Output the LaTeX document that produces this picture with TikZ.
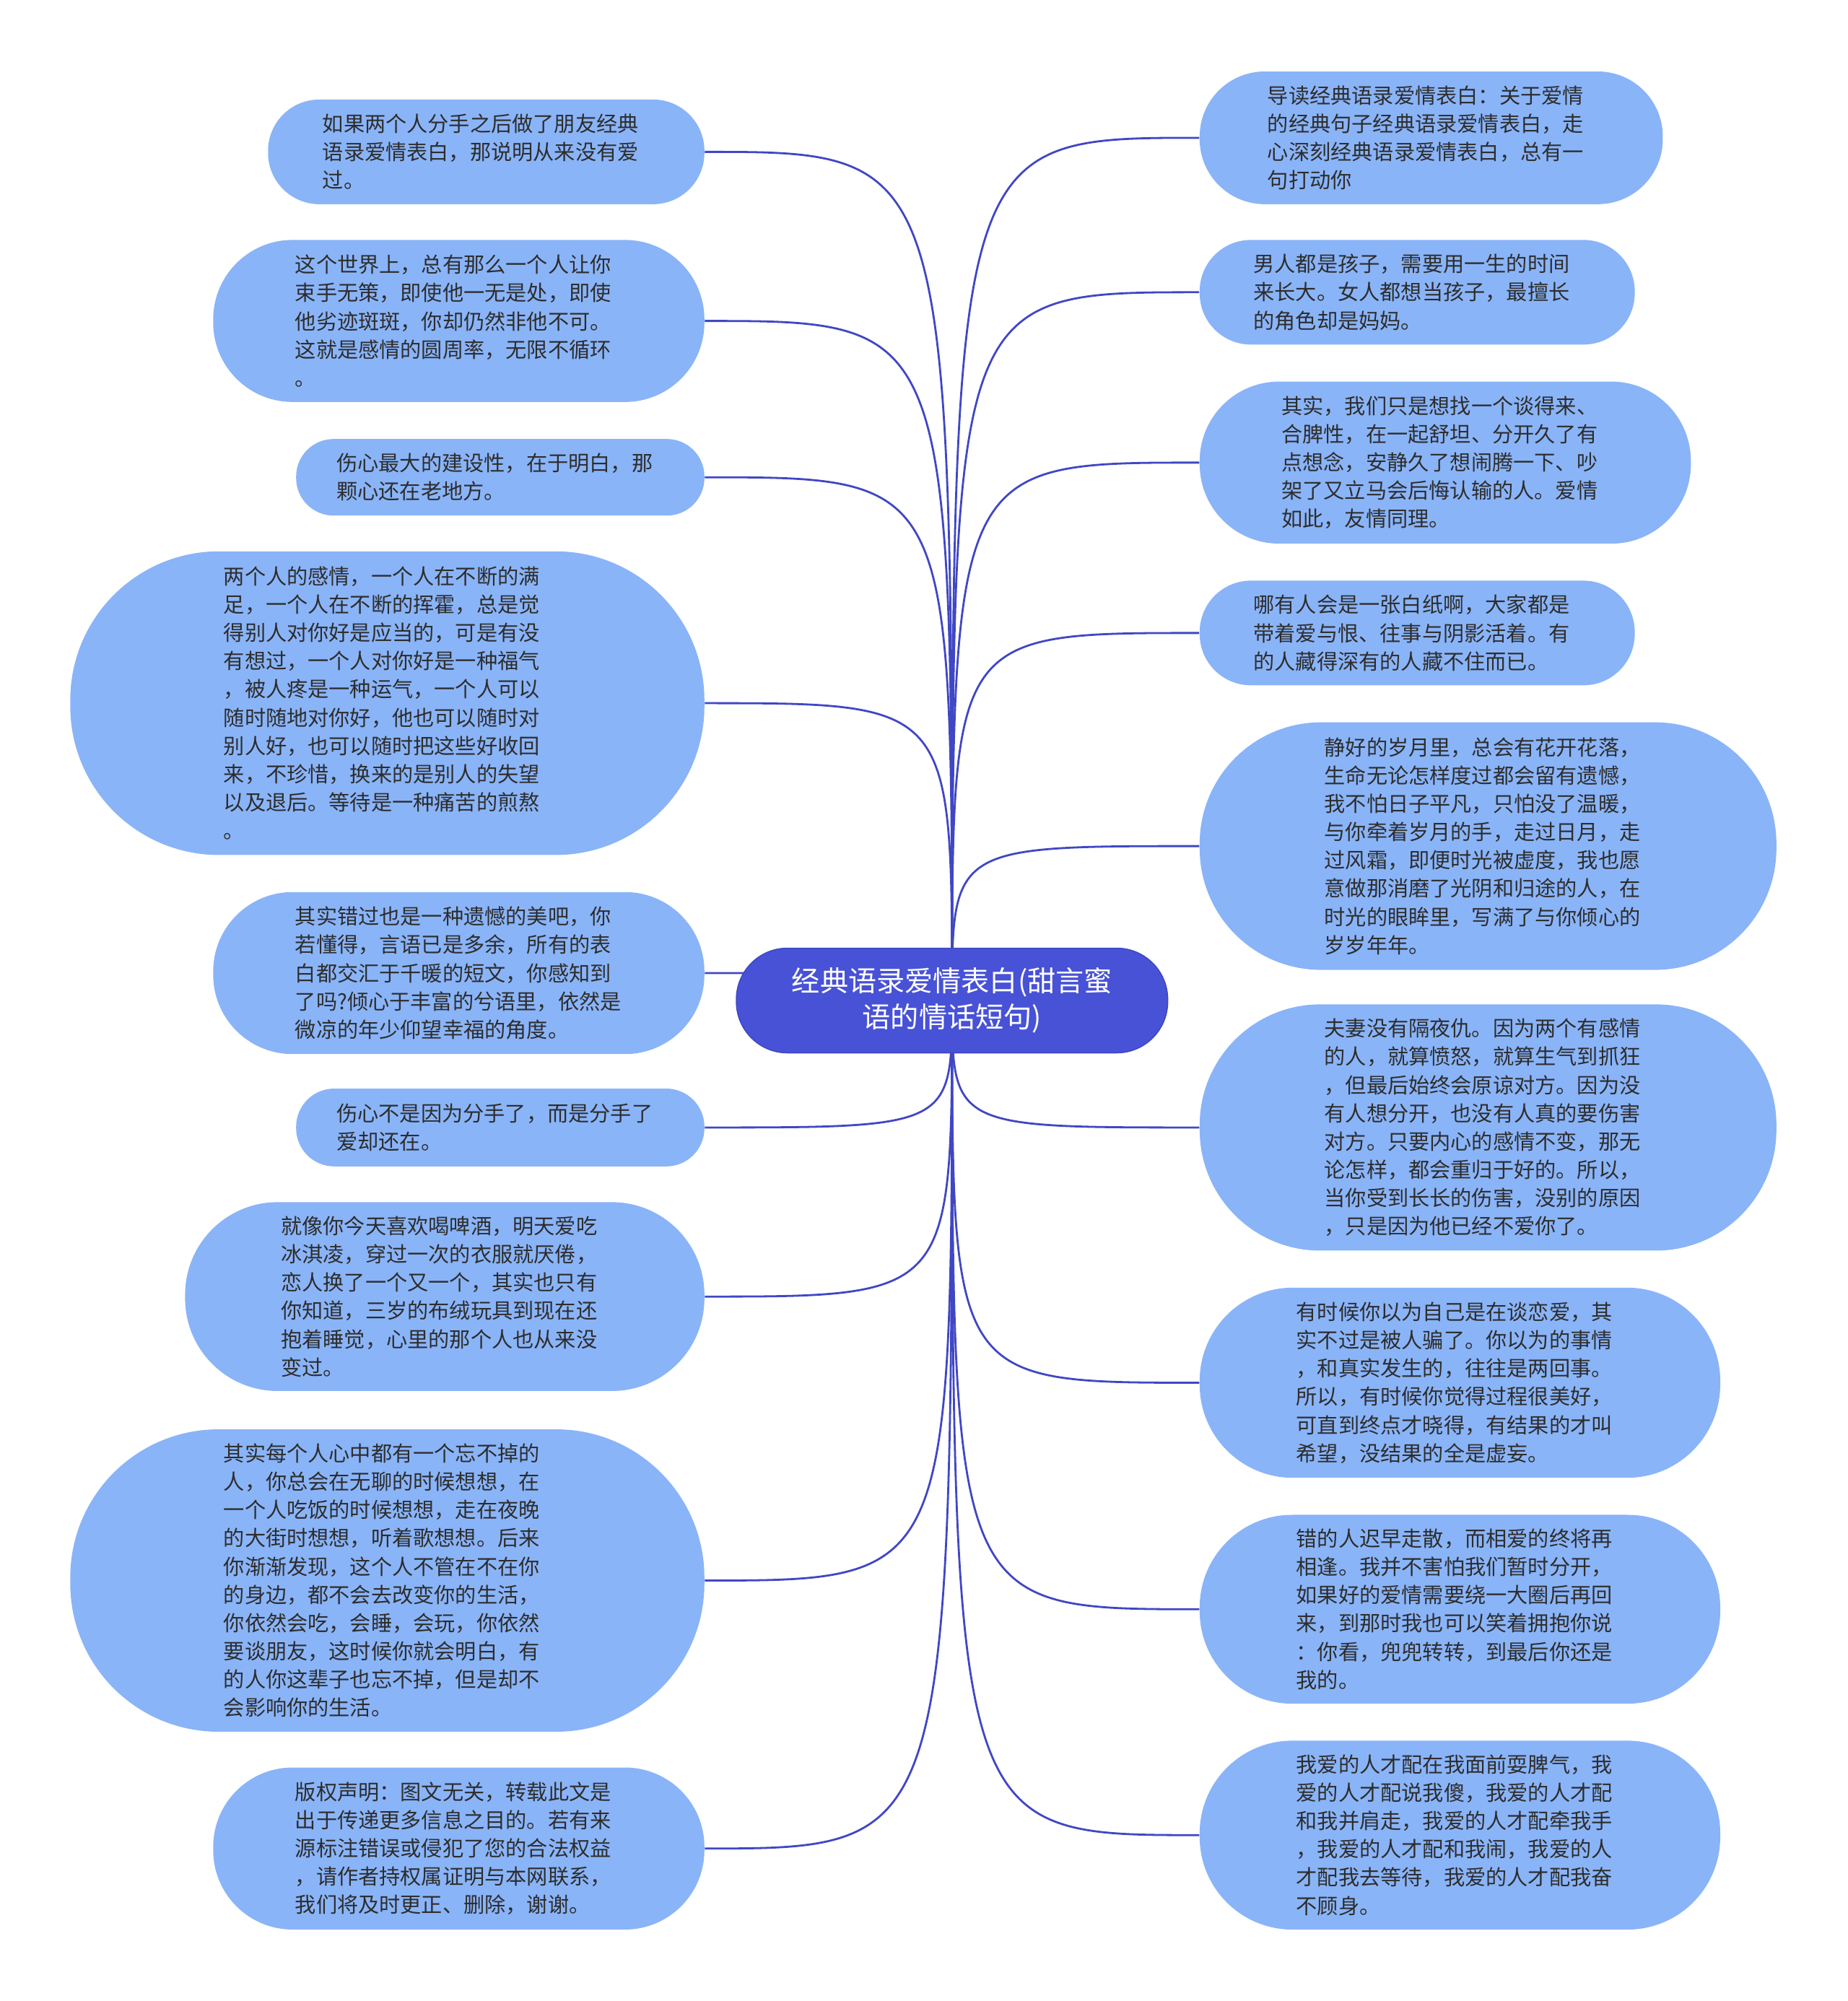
\documentclass[tikz,border=0pt]{standalone}
\usepackage{fontspec}
\usepackage{xcolor}
\usepackage{tikz}
\usetikzlibrary{backgrounds}
\newfontfamily\cjk{Noto Sans CJK SC}
\definecolor{leaffill}{RGB}{138,180,248}
\definecolor{topicfill}{RGB}{72,82,214}
\definecolor{linkblue}{RGB}{64,71,196}
\definecolor{textdark}{RGB}{45,45,45}
\tikzset{
  leaf/.style 2 args={rectangle, fill=leaffill, draw=none,
    minimum width=#1, minimum height=#2, rounded corners=#2*0.49,
    text width=146pt, align=left, inner sep=2pt,
    font=\cjk\fontsize{9.4pt}{12.6pt}\selectfont, text=textdark},
  topic/.style={rectangle, fill=topicfill, draw=linkblue, line width=0.5pt,
    minimum width=6.76cm, minimum height=1.64cm, rounded corners=0.8cm,
    align=center, inner sep=2pt,
    font=\cjk\fontsize{12.6pt}{16pt}\selectfont, text=white},
  link/.style={line width=0.9pt, color=linkblue}
}

\begin{document}
\begin{tikzpicture}[x=0.02cm, y=-0.02cm]
  \useasboundingbox (0,0) rectangle (1448,1568);

  % Centre
  \node[topic] (main) at (746,784) {经典语录爱情表白(甜言蜜\\语的情话短句)};

  % Left side
  \node[leaf={6.84cm}{1.64cm}] (l1) at (381,119)
    {如果两个人分手之后做了朋友经典\\语录爱情表白，那说明从来没有爱\\过。};
  \node[leaf={7.70cm}{2.54cm}] (l2) at (359.5,251.5)
    {这个世界上，总有那么一个人让你\\束手无策，即使他一无是处，即使\\他劣迹斑斑，你却仍然非他不可。\\这就是感情的圆周率，无限不循环\\。};
  \node[leaf={6.40cm}{1.20cm}] (l3) at (392,374)
    {伤心最大的建设性，在于明白，那\\颗心还在老地方。};
  \node[leaf={9.94cm}{4.76cm}] (l4) at (303.5,551)
    {两个人的感情，一个人在不断的满\\足，一个人在不断的挥霍，总是觉\\得别人对你好是应当的，可是有没\\有想过，一个人对你好是一种福气\\，被人疼是一种运气，一个人可以\\随时随地对你好，他也可以随时对\\别人好，也可以随时把这些好收回\\来，不珍惜，换来的是别人的失望\\以及退后。等待是一种痛苦的煎熬\\。};
  \node[leaf={7.70cm}{2.54cm}] (l5) at (359.5,762.5)
    {其实错过也是一种遗憾的美吧，你\\若懂得，言语已是多余，所有的表\\白都交汇于千暖的短文，你感知到\\了吗?倾心于丰富的兮语里，依然是\\微凉的年少仰望幸福的角度。};
  \node[leaf={6.40cm}{1.22cm}] (l6) at (392,883.5)
    {伤心不是因为分手了，而是分手了\\爱却还在。};
  \node[leaf={8.14cm}{2.96cm}] (l7) at (348.5,1016)
    {就像你今天喜欢喝啤酒，明天爱吃\\冰淇凌，穿过一次的衣服就厌倦，\\恋人换了一个又一个，其实也只有\\你知道，三岁的布绒玩具到现在还\\抱着睡觉，心里的那个人也从来没\\变过。};
  \node[leaf={9.94cm}{4.74cm}] (l8) at (303.5,1238.5)
    {其实每个人心中都有一个忘不掉的\\人，你总会在无聊的时候想想，在\\一个人吃饭的时候想想，走在夜晚\\的大街时想想，听着歌想想。后来\\你渐渐发现，这个人不管在不在你\\的身边，都不会去改变你的生活，\\你依然会吃，会睡，会玩，你依然\\要谈朋友，这时候你就会明白，有\\的人你这辈子也忘不掉，但是却不\\会影响你的生活。};
  \node[leaf={7.70cm}{2.54cm}] (l9) at (359.5,1448.5)
    {版权声明：图文无关，转载此文是\\出于传递更多信息之目的。若有来\\源标注错误或侵犯了您的合法权益\\，请作者持权属证明与本网联系，\\我们将及时更正、删除，谢谢。};

  % Right side
  \node[leaf={7.26cm}{2.08cm}] (r1) at (1121.5,108)
    {导读经典语录爱情表白：关于爱情\\的经典句子经典语录爱情表白，走\\心深刻经典语录爱情表白，总有一\\句打动你};
  \node[leaf={6.82cm}{1.64cm}] (r2) at (1110.5,229)
    {男人都是孩子，需要用一生的时间\\来长大。女人都想当孩子，最擅长\\的角色却是妈妈。};
  \node[leaf={7.70cm}{2.54cm}] (r3) at (1132.5,362.5)
    {其实，我们只是想找一个谈得来、\\合脾性，在一起舒坦、分开久了有\\点想念，安静久了想闹腾一下、吵\\架了又立马会后悔认输的人。爱情\\如此，友情同理。};
  \node[leaf={6.82cm}{1.64cm}] (r4) at (1110.5,496)
    {哪有人会是一张白纸啊，大家都是\\带着爱与恨、往事与阴影活着。有\\的人藏得深有的人藏不住而已。};
  \node[leaf={9.04cm}{3.88cm}] (r5) at (1166,663)
    {静好的岁月里，总会有花开花落，\\生命无论怎样度过都会留有遗憾，\\我不怕日子平凡，只怕没了温暖，\\与你牵着岁月的手，走过日月，走\\过风霜，即便时光被虚度，我也愿\\意做那消磨了光阴和归途的人，在\\时光的眼眸里，写满了与你倾心的\\岁岁年年。};
  \node[leaf={9.04cm}{3.86cm}] (r6) at (1166,883.5)
    {夫妻没有隔夜仇。因为两个有感情\\的人，就算愤怒，就算生气到抓狂\\，但最后始终会原谅对方。因为没\\有人想分开，也没有人真的要伤害\\对方。只要内心的感情不变，那无\\论怎样，都会重归于好的。所以，\\当你受到长长的伤害，没别的原因\\，只是因为他已经不爱你了。};
  \node[leaf={8.16cm}{2.98cm}] (r7) at (1144,1083.5)
    {有时候你以为自己是在谈恋爱，其\\实不过是被人骗了。你以为的事情\\，和真实发生的，往往是两回事。\\所以，有时候你觉得过程很美好，\\可直到终点才晓得，有结果的才叫\\希望，没结果的全是虚妄。};
  \node[leaf={8.16cm}{2.96cm}] (r8) at (1144,1261)
    {错的人迟早走散，而相爱的终将再\\相逢。我并不害怕我们暂时分开，\\如果好的爱情需要绕一大圈后再回\\来，到那时我也可以笑着拥抱你说\\：你看，兜兜转转，到最后你还是\\我的。};
  \node[leaf={8.16cm}{2.96cm}] (r9) at (1144,1438)
    {我爱的人才配在我面前耍脾气，我\\爱的人才配说我傻，我爱的人才配\\和我并肩走，我爱的人才配牵我手\\，我爱的人才配和我闹，我爱的人\\才配我去等待，我爱的人才配我奋\\不顾身。};

  % Links
  \begin{scope}[on background layer]
    \foreach \n in {l1,l2,l3,l4,l5,l6,l7,l8,l9}
      \draw[link] (main.center) .. controls (main.center |- \n.east) .. (\n.east);
    \foreach \n in {r1,r2,r3,r4,r5,r6,r7,r8,r9}
      \draw[link] (main.center) .. controls (main.center |- \n.west) .. (\n.west);
  \end{scope}
\end{tikzpicture}
\end{document}
